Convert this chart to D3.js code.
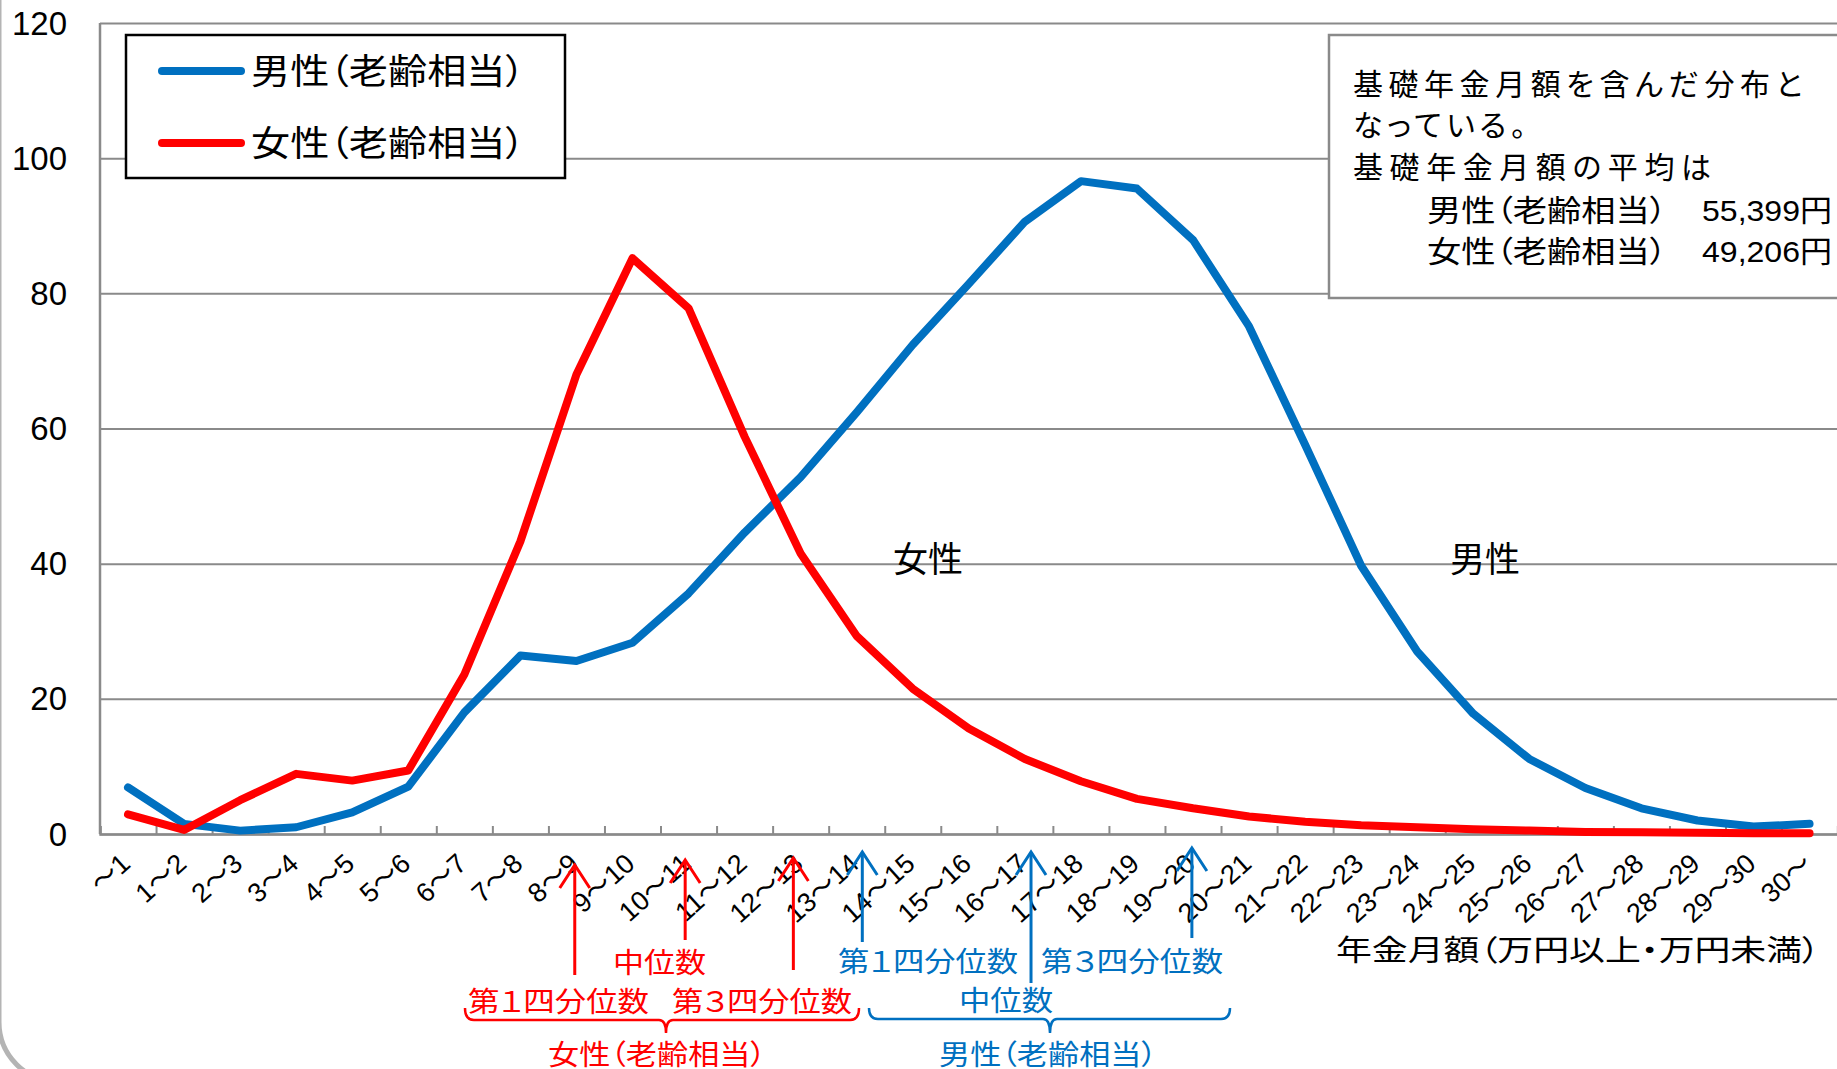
<!DOCTYPE html>
<html><head><meta charset="utf-8">
<script src="https://cdn.jsdelivr.net/npm/d3@7"></script>
<style>
html,body{margin:0;padding:0;background:#fff;overflow:hidden;}
svg{display:block;}
text{font-feature-settings:"palt";}
</style></head>
<body>
<svg id="chart" width="1837" height="1069"></svg>
<script>
// ---------- data ----------
const categories = ["～1","1～2","2～3","3～4","4～5","5～6","6～7","7～8","8～9","9～10",
  "10～11","11～12","12～13","13～14","14～15","15～16","16～17","17～18","18～19","19～20",
  "20～21","21～22","22～23","23～24","24～25","25～26","26～27","27～28","28～29","29～30","30～"];
const maleValues = [6.9,1.5,0.5,1.0,3.2,7.0,18.0,26.4,25.6,28.3,35.6,44.6,52.8,62.4,72.4,81.4,
  90.6,96.6,95.5,87.9,75.1,57.6,39.7,27.0,17.8,11.1,6.8,3.8,2.0,1.1,1.5];
const femaleValues = [2.9,0.6,5.0,8.9,7.9,9.4,23.6,43.3,68.0,85.2,77.8,58.8,41.5,29.3,21.5,15.6,
  11.1,7.8,5.2,3.8,2.6,1.8,1.3,1.0,0.7,0.5,0.3,0.25,0.2,0.1,0.1];
const yTicks = [0,20,40,60,80,100,120];
const seriesNames = ["男性（老齢相当）","女性（老齢相当）"];
const curveLabels = ["男性","女性"];
const noteLines = ["基礎年金月額を含んだ分布と","なっている。","基礎年金月額の平均は"];
const noteAverages = ["55,399円","49,206円"];
// quartiles (万円, on a continuous scale 0..31)
const femaleQuartiles = [8.47,10.44,12.37];
const maleQuartiles = [13.6,16.61,19.48];
const quartileLabels = ["第１四分位数","中位数","第３四分位数"];
const xTitle = "年金月額（万円以上・万円未満）";

// ---------- layout ----------
const W = 1837, H = 1069;
const L = 100, R = 1837.6, T = 23, B = 834;
const BLUE = "#0070C0", RED = "#FF0000", GRID = "#8a8a8a";
const jp = "'Liberation Sans','Noto Sans CJK JP',sans-serif";

const svg = d3.select("#chart");
const x = d3.scaleBand().domain(categories).range([L, R]).padding(0);
const xv = d3.scaleLinear().domain([0, categories.length]).range([L, R]);
const y = d3.scaleLinear().domain([0, 120]).range([B, T]);

// frame
svg.append("rect").attr("x", -1).attr("y", -100).attr("width", 3000).attr("height", 1182)
  .attr("rx", 60).attr("fill", "none").attr("stroke", "#b4b4b4").attr("stroke-width", 5);

// gridlines
const gGrid = svg.append("g").attr("transform", `translate(${L},0)`)
  .call(d3.axisLeft(y).tickValues(yTicks).tickSize(-(W - L + 10)).tickFormat(""));
gGrid.select(".domain").remove();
gGrid.selectAll(".tick line").attr("stroke", GRID).attr("stroke-width", 2);

// y axis line
svg.append("line").attr("x1", L).attr("x2", L).attr("y1", y(120)).attr("y2", B)
  .attr("stroke", GRID).attr("stroke-width", 2.5);

// y labels
svg.append("g").selectAll("text").data(yTicks).join("text")
  .attr("x", 67).attr("y", d => y(d)).attr("text-anchor", "end")
  .attr("dominant-baseline", "central")
  .style("font-family", "'Liberation Sans',Arial,sans-serif").style("font-size", "33px")
  .attr("fill", "#000").text(d => d);

// x axis ticks (inward)
const gx = svg.append("g").attr("transform", `translate(0,${B})`)
  .call(d3.axisBottom(xv).tickValues(d3.range(0, categories.length + 1)).tickSize(-8).tickFormat(""));
gx.select(".domain").attr("stroke", GRID).attr("stroke-width", 2.5);
gx.selectAll(".tick line").attr("stroke", GRID).attr("stroke-width", 2);

// x labels
const gxl = svg.append("g").attr("transform", `translate(0,${B})`)
  .call(d3.axisBottom(x).tickSize(0).tickPadding(0));
gxl.select(".domain").remove();
gxl.selectAll(".tick text")
  .attr("text-anchor", "end").attr("dy", null).attr("y", 0)
  .attr("transform", "translate(4,32) rotate(-42)")
  .style("font-family", jp).style("font-size", "27px").attr("fill", "#000");

// lines
const line = d3.line().x((d, i) => x(categories[i]) + x.bandwidth() / 2).y(d => y(d));
svg.append("path").datum(maleValues).attr("d", line).attr("fill", "none")
  .attr("stroke", BLUE).attr("stroke-width", 8).attr("stroke-linejoin", "round").attr("stroke-linecap", "round");
svg.append("path").datum(femaleValues).attr("d", line).attr("fill", "none")
  .attr("stroke", RED).attr("stroke-width", 8).attr("stroke-linejoin", "round").attr("stroke-linecap", "round");

// curve labels
svg.append("text").attr("x", 1485).attr("y", 559).attr("text-anchor", "middle").attr("dominant-baseline", "central")
  .style("font-family", jp).style("font-size", "35px").text(curveLabels[0]);
svg.append("text").attr("x", 928).attr("y", 559).attr("text-anchor", "middle").attr("dominant-baseline", "central")
  .style("font-family", jp).style("font-size", "35px").text(curveLabels[1]);

// legend
svg.append("rect").attr("x", 126).attr("y", 35).attr("width", 439).attr("height", 143)
  .attr("fill", "#fff").attr("stroke", "#000").attr("stroke-width", 2.5);
[[BLUE, 71], [RED, 143]].forEach(([c, yy], i) => {
  svg.append("line").attr("x1", 162).attr("x2", 241).attr("y1", yy).attr("y2", yy)
    .attr("stroke", c).attr("stroke-width", 8).attr("stroke-linecap", "round");
  svg.append("text").attr("x", 251).attr("y", yy).attr("dominant-baseline", "central")
    .attr("textLength", 274).attr("lengthAdjust", "spacingAndGlyphs")
    .style("font-family", jp).style("font-size", "35px").text(seriesNames[i]);
});

// note box
svg.append("rect").attr("x", 1329).attr("y", 35).attr("width", 540).attr("height", 263)
  .attr("fill", "#fff").attr("stroke", "#8a8a8a").attr("stroke-width", 2.5);
const noteY = [84, 125, 167], noteLen = [449, 173, 358];
noteLines.forEach((t, i) => {
  svg.append("text").attr("x", 1353).attr("y", noteY[i]).attr("dominant-baseline", "central")
    .attr("textLength", noteLen[i]).attr("lengthAdjust", "spacing")
    .style("font-family", jp).style("font-size", "30px").text(t);
});
[210, 251].forEach((yy, i) => {
  svg.append("text").attr("x", 1427).attr("y", yy).attr("dominant-baseline", "central")
    .attr("textLength", 240).attr("lengthAdjust", "spacingAndGlyphs")
    .style("font-family", jp).style("font-size", "30px").text(seriesNames[i]);
  svg.append("text").attr("x", 1702).attr("y", yy).attr("dominant-baseline", "central")
    .attr("textLength", 130).attr("lengthAdjust", "spacingAndGlyphs")
    .style("font-family", jp).style("font-size", "30px").text(noteAverages[i]);
});

// x axis title
svg.append("text").attr("x", 1336).attr("y", 951).attr("dominant-baseline", "central")
  .attr("textLength", 484).attr("lengthAdjust", "spacingAndGlyphs")
  .style("font-family", jp).style("font-size", "29px").text(xTitle);

// quartile arrows
function arrow(v, tip, bottom, color) {
  const ax = xv(v);
  const g = svg.append("g").attr("stroke", color).attr("stroke-width", 3).attr("fill", "none");
  g.append("line").attr("x1", ax).attr("x2", ax).attr("y1", tip).attr("y2", bottom);
  g.append("path").attr("d", `M${ax - 15},${tip + 23} L${ax},${tip} L${ax + 15},${tip + 23}`);
}
const fTips = [865, 860, 858], fBottoms = [975, 940, 970];
const mTips = [852, 852, 848], mBottoms = [942, 983, 938];
femaleQuartiles.forEach((v, i) => arrow(v, fTips[i], fBottoms[i], RED));
maleQuartiles.forEach((v, i) => arrow(v, mTips[i], mBottoms[i], BLUE));

function label(t, x0, x1, yy, color, size) {
  svg.append("text").attr("x", x0).attr("y", yy).attr("dominant-baseline", "central")
    .attr("textLength", x1 - x0).attr("lengthAdjust", "spacingAndGlyphs")
    .style("font-family", jp).style("font-size", size + "px").attr("fill", color).text(t);
}
function brace(x1, x2, cx, yTop, yH, yBot, color) {
  svg.append("path").attr("fill", "none").attr("stroke", color).attr("stroke-width", 2.5)
    .attr("d", `M${x1},${yTop} Q${x1},${yH} ${x1 + 9},${yH} L${cx - 7},${yH} Q${cx},${yH} ${cx},${yBot} Q${cx},${yH} ${cx + 7},${yH} L${x2 - 9},${yH} Q${x2},${yH} ${x2},${yTop}`);
}
// female
label(quartileLabels[1], 613, 706, 963, RED, 28);
label(quartileLabels[0], 468, 649, 1002, RED, 28);
label(quartileLabels[2], 672, 852, 1002, RED, 28);
brace(465, 859, 666, 1008, 1020, 1033, RED);
label(seriesNames[1], 548, 766, 1055, RED, 28);
// male
label(quartileLabels[0], 838, 1018, 962, BLUE, 28);
label(quartileLabels[2], 1041, 1223, 962, BLUE, 28);
label(quartileLabels[1], 959, 1053, 1001, BLUE, 28);
brace(869, 1230, 1050, 1008, 1019, 1033, BLUE);
label(seriesNames[0], 939, 1157, 1055, BLUE, 28);
</script>
</body></html>
